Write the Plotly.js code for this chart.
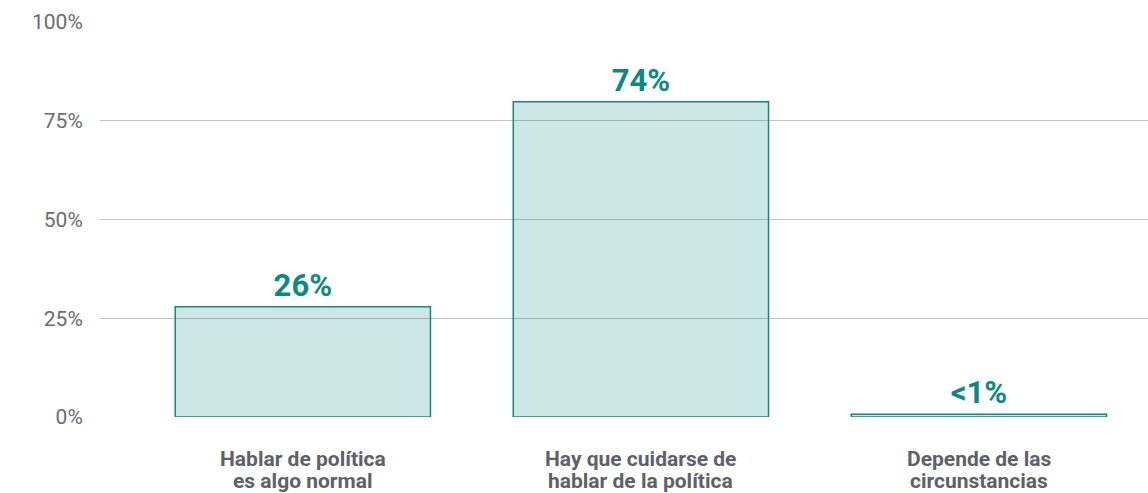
<!DOCTYPE html>
<html>
<head>
<meta charset="utf-8">
<script src="https://cdn.plot.ly/plotly-3.0.1.min.js"></script>
<style>html,body{margin:0;padding:0;background:#fff;}#chart{width:1148px;height:493px;}</style>
</head>
<body>
<div id="chart"></div>
<script>
const labelLine1 = ["Hablar de política", "Hay que cuidarse de", "Depende de las"];
const labelLine2 = ["es algo normal", "hablar de la política", "circunstancias"];
const categories = labelLine1.map((a, i) => a + ' ' + labelLine2[i]);
const values = [27.9, 79.8, 0.7];
const valueLabels = ["26%", "74%", "<1%"];
const yTickValues = [0, 25, 50, 75, 100];
const yTickLabels = ["0%", "25%", "50%", "75%", "100%"];

const trace = {
  type: 'bar',
  x: categories,
  y: values,
  text: valueLabels,
  texttemplate: '%{text}',
  textposition: 'outside',
  cliponaxis: false,
  textfont: {family: 'Roboto', size: 31, color: '#0d8a80', weight: 700},
  width: 0.755,
  marker: {color: 'rgba(0,133,125,0.2)', line: {color: '#17887f', width: 1.5}},
  hoverinfo: 'none'
};

const labelFont = {family: 'Roboto', size: 21, color: '#5f6068', weight: 700};
const annotations = [];
categories.forEach((c, i) => {
  annotations.push({x: c, xref: 'x', y: 0, yref: 'paper', yanchor: 'top', yshift: -29,
    text: labelLine1[i], showarrow: false, font: labelFont, borderpad: 0});
  annotations.push({x: c, xref: 'x', y: 0, yref: 'paper', yanchor: 'top', yshift: -51,
    text: labelLine2[i], showarrow: false, font: labelFont, borderpad: 0});
});

const layout = {
  width: 1148, height: 493,
  margin: {l: 100, r: 0, t: 22, b: 76},
  paper_bgcolor: '#fff', plot_bgcolor: '#fff',
  showlegend: false,
  font: {family: 'Roboto'},
  xaxis: {
    range: [-0.6, 2.5],
    showgrid: false, zeroline: false, showline: false,
    showticklabels: false, ticks: ''
  },
  yaxis: {
    range: [0, 100],
    tickvals: yTickValues, ticktext: yTickLabels,
    showgrid: true, gridcolor: '#c4c4c4', gridwidth: 1,
    zeroline: false, showline: false,
    ticks: 'outside', ticklen: 12, tickcolor: 'rgba(0,0,0,0)',
    tickfont: {family: 'Roboto', size: 21, color: '#6b6b70'}
  },
  annotations: annotations,
  bargap: 0.245
};

Plotly.newPlot('chart', [trace], layout, {displayModeBar: false, staticPlot: true});
</script>
</body>
</html>
